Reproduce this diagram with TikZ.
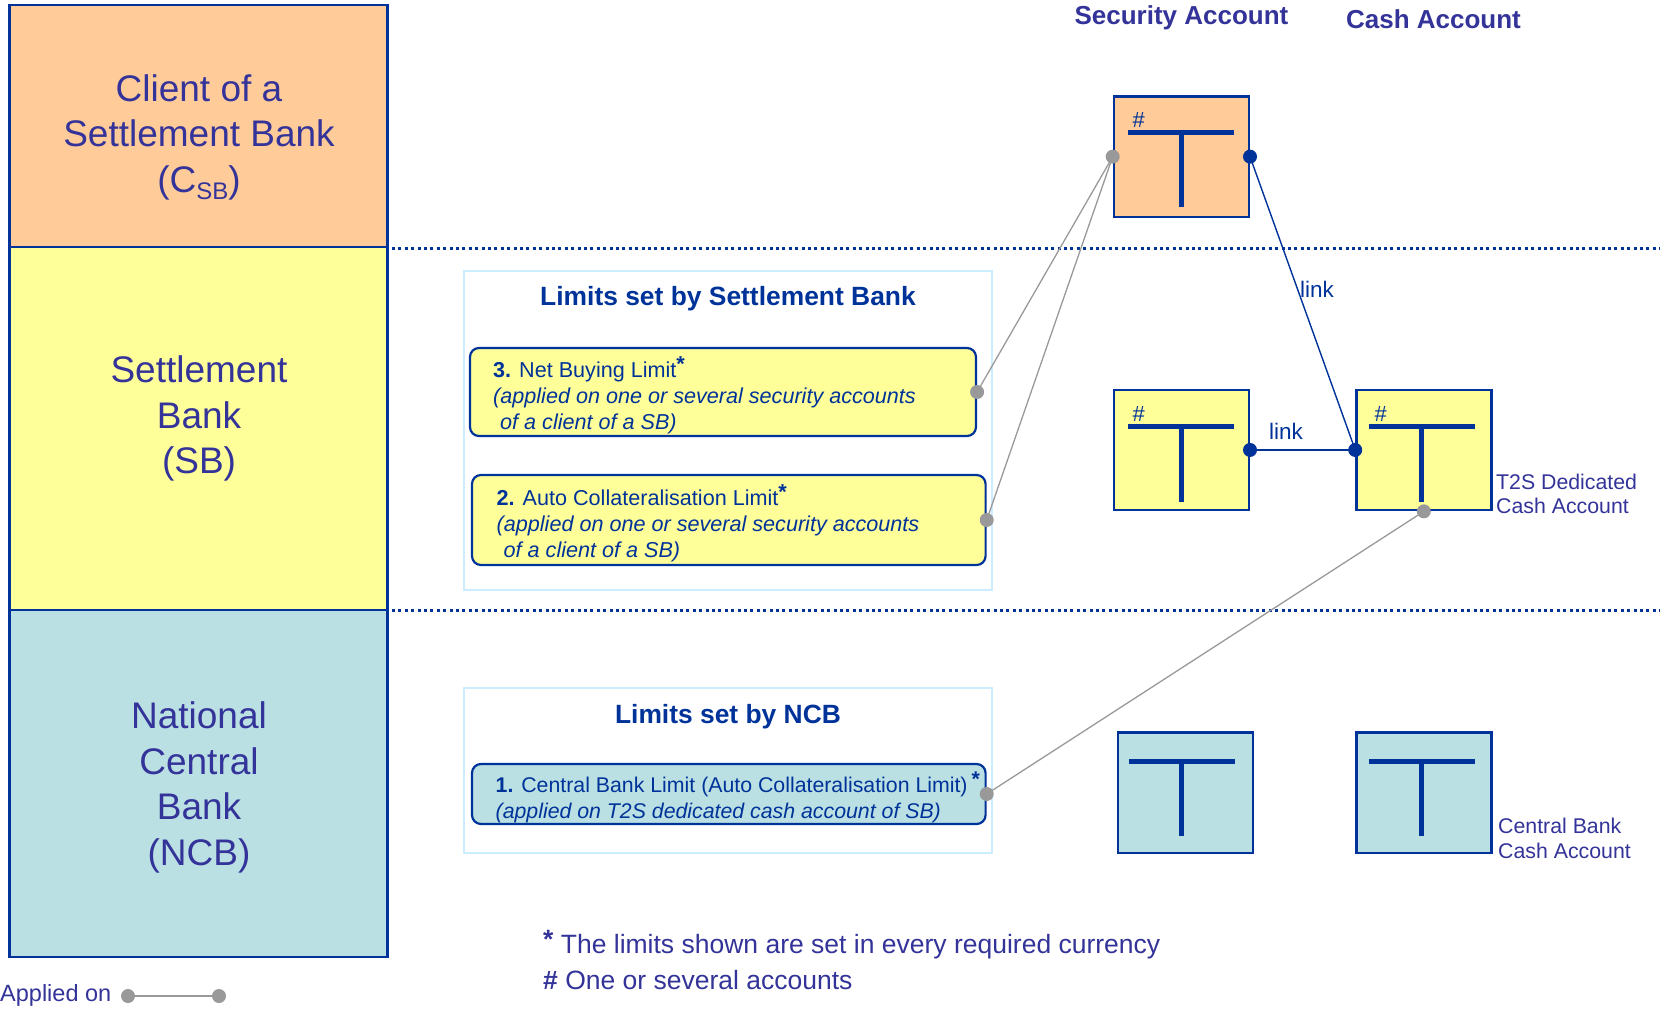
\documentclass[tikz,border=0pt]{standalone}
\usepackage{fontspec}
\setmainfont{Liberation Sans}
\usetikzlibrary{calc}
\definecolor{dblue}{HTML}{003399}
\definecolor{pblue}{HTML}{333399}
\definecolor{orng}{HTML}{FFCC99}
\definecolor{ylw}{HTML}{FFFF99}
\definecolor{tealc}{HTML}{BBE0E3}
\definecolor{lblue}{HTML}{CCECFF}
\definecolor{gry}{HTML}{999999}
\begin{document}
\begin{tikzpicture}[x=1pt,y=-1pt,
  colbox/.style={draw=dblue, line width=2.2pt, minimum width=378pt, inner sep=0pt},
  coltext/.style={text=pblue, align=center, font=\fontsize{37}{45.5}\selectfont},
  limbox/.style={draw=lblue, line width=2pt, inner sep=0pt},
  limtitle/.style={text=dblue, font=\bfseries\fontsize{26.4}{30}\selectfont},
  itembox/.style={draw=dblue, line width=2.2pt, rounded corners=9pt, inner sep=0pt},
  itemtext/.style={text=dblue, align=left, anchor=west, inner sep=0pt, font=\fontsize{21.6}{26}\selectfont},
  acct/.style={draw=dblue, line width=2.3pt, inner sep=0pt, minimum width=135pt, minimum height=120.5pt},
  hash/.style={text=dblue, font=\fontsize{22}{22}\selectfont, inner sep=0pt},
  tbar/.style={draw=dblue, line width=5pt},
  tee/.pic={\draw[tbar] (-53,0) -- (53,0) (0,-1.5) -- (0,75);},
  head/.style={text=pblue, font=\bfseries\fontsize{26}{30}\selectfont},
  smalllab/.style={text=pblue, align=left, anchor=west, inner sep=0pt, font=\fontsize{21.3}{24.5}\selectfont},
  linklab/.style={text=dblue, font=\fontsize{22.5}{24}\selectfont},
  sep/.style={draw=dblue, line width=3pt, dash pattern=on 3pt off 3.4pt},
  applied/.style={draw=gry, line width=1.3pt},
  linked/.style={draw=dblue, line width=1.4pt},
  gdot/.style={fill=gry},
  bdot/.style={fill=dblue},
  foot/.style={text=pblue, anchor=west, inner sep=0pt, font=\fontsize{26.5}{30}\selectfont}
]
\useasboundingbox (0,0) rectangle (1660,1009);

% left column
\node[colbox, fill=orng, minimum height=241.4pt] (csb) at (198.5,126) {};
\node[colbox, fill=ylw, minimum height=363.1pt] (sb) at (198.5,428.25) {};
\node[colbox, fill=tealc, minimum height=347.2pt] (ncb) at (198.5,783.4) {};
\node[coltext] (csbt) at (199,137) {Client of a\\Settlement Bank\\(C\raisebox{-7pt}{\fontsize{24}{24}\selectfont SB})};
\node[coltext] (sbt) at (199,418.5) {Settlement\\Bank\\(SB)};
\node[coltext] (ncbt) at (199,787.5) {National\\Central\\Bank\\(NCB)};

% separators
\coordinate (s1a) at (392,248.8);
\coordinate (s1b) at (1660,248.8);
\coordinate (s2a) at (392,610.9);
\coordinate (s2b) at (1660,610.9);
\draw[sep] (s1a) -- (s1b);
\draw[sep] (s2a) -- (s2b);

% headers
\node[head] (hsec) at (1181.5,18) {Security Account};
\node[head] (hcash) at (1433.5,19.5) {Cash Account};

% limits set by SB
\node[limbox, minimum width=528.3pt, minimum height=318.7pt] (limsb) at (727.85,430.35) {};
\node[limtitle] (limsbt) at (728,298.5) {Limits set by Settlement Bank};
\node[itembox, fill=ylw, minimum width=506pt, minimum height=88pt] (b3) at (723,392) {};
\node[itemtext] (b3t) at (493,395) {\textbf{3.} Net Buying Limit\raisebox{6pt}{\textbf{*}}\\
  \textit{(applied on one or several security accounts}\\
  \hspace*{7pt}\textit{of a client of a SB)}};
\node[itembox, fill=ylw, minimum width=513.6pt, minimum height=90pt] (b2) at (728.8,520) {};
\node[itemtext] (b2t) at (496.5,523.5) {\textbf{2.} Auto Collateralisation Limit\raisebox{6pt}{\textbf{*}}\\
  \textit{(applied on one or several security accounts}\\
  \hspace*{7pt}\textit{of a client of a SB)}};

% limits set by NCB
\node[limbox, minimum width=528.3pt, minimum height=165pt] (limncb) at (727.85,770.5) {};
\node[limtitle] (limncbt) at (728,717) {Limits set by NCB};
\node[itembox, fill=tealc, minimum width=513.6pt, minimum height=60pt] (b1) at (728.8,794) {};
\node[itemtext, font=\fontsize{21.3}{26}\selectfont] (b1t) at (495.5,797) {\textbf{1.} Central Bank Limit (Auto Collateralisation Limit)\hspace{4pt}\raisebox{6pt}{\textbf{*}}\\
  \textit{(applied on T2S dedicated cash account of SB)}};

% accounts
\node[acct, fill=orng] (tsec) at (1181.35,156.65) {};
\node[acct, fill=ylw] (msec) at (1181.35,449.95) {};
\node[acct, fill=ylw] (mcash) at (1423.85,449.95) {};
\node[acct, fill=tealc] (bsec) at (1185.75,792.8) {};
\node[acct, fill=tealc] (bcash) at (1423.85,792.8) {};

\pic at ($(tsec.north)+(0,37)$) {tee};
\pic at ($(msec.north)+(0,38)$) {tee};
\pic at ($(mcash.north)+(-2,38)$) {tee};
\pic at ($(bsec.north)+(-4,30)$) {tee};
\pic at ($(bcash.north)+(-2,30)$) {tee};
\node[hash] (h1) at ($(tsec.north west)+(26,25)$) {\#};
\node[hash] (h2) at ($(msec.north west)+(26,25.5)$) {\#};
\node[hash] (h3) at ($(mcash.north west)+(25.6,25.5)$) {\#};

\node[smalllab] (t2sl) at (1496,494) {T2S Dedicated\\Cash Account};
\node[smalllab] (cbl) at (1498,838.5) {Central Bank\\Cash Account};

% connectors
\draw[applied] (b3.east) -- (tsec.west);
\draw[applied] (b2.east) -- (tsec.west);
\draw[applied] (b1.east) -- (mcash.south);
\draw[linked] (tsec.east) -- (mcash.west);
\draw[linked] (msec.east) -- (mcash.west);
\node[linklab] (lk1) at (1317,289) {link};
\node[linklab] (lk2) at (1286,431) {link};

\fill[gdot] (b3.east) circle (7pt);
\fill[gdot] (b2.east) circle (7pt);
\fill[gdot] (b1.east) circle (7pt);
\fill[gdot] (tsec.west) circle (7pt);
\fill[gdot] (mcash.south) circle (7pt);
\fill[bdot] (tsec.east) circle (7pt);
\fill[bdot] (msec.east) circle (7pt);
\fill[bdot] (mcash.west) circle (7pt);

% footnotes
\node[foot] (f1) at (543,945) {\raisebox{5pt}{\textbf{*}} The limits shown are set in every required currency};
\node[foot] (f2) at (543,980) {\textbf{\#} One or several accounts};

% legend
\node[text=pblue, anchor=west, inner sep=0pt, font=\fontsize{23.5}{25}\selectfont] (appl) at (0,995) {Applied on};
\coordinate (la) at (128,996);
\coordinate (lb) at (219,996);
\draw[applied] (la) -- (lb);
\fill[gdot] (la) circle (7pt);
\fill[gdot] (lb) circle (7pt);
\end{tikzpicture}
\end{document}
